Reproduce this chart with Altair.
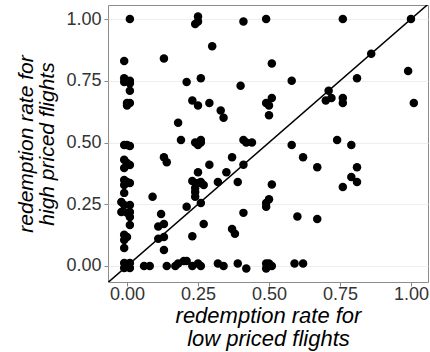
import altair as alt
import pandas as pd

# redemption rates
low_price = [
    0.01, 0.25, 0.24, 0.25, 0.41, 0.49, 0.76, 1.00,
    0.30, 0.86, -0.01, 0.13, 0.51, 0.99,
    -0.01, -0.01, 0.01, 0.01, 0.01, 0.21, 0.26, 0.40, 0.58, 0.81, 0.71,
    0.00, 0.01, 0.00, 0.23, 0.25, 0.29, 0.33, 0.34, 0.18,
    0.49, 0.51, 0.50, 0.50, 0.70, 0.72, 0.76, 0.76, 1.01,
    0.74, 0.58, 0.79,
    0.19, 0.24, 0.26, 0.25, 0.26, 0.41, 0.42, 0.44, -0.01, 0.00, 0.01,
    0.62, 0.67, 0.81, 0.13, 0.14, -0.01, 0.00, -0.01, 0.01, 0.29, 0.37, 0.41, 0.25, 0.35,
    0.79, 0.81, 0.76, 0.51, -0.01, 0.00, -0.01, 0.01, 0.23, 0.25, 0.26, 0.27, 0.24, 0.32, 0.39,
    -0.01, 0.09, 0.24, 0.24, 0.50, 0.49, 0.49, 0.26, 0.21, -0.02, -0.01, 0.01, 0.60, 0.67,
    -0.02, 0.00, 0.01, 0.01, 0.12, 0.41, 0.01, 0.11, 0.13, 0.27, 0.37, 0.38,
    -0.01, 0.00, -0.01, 0.23, 0.11, 0.13, -0.01, 0.13,
    -0.01, 0.00, 0.01, -0.01, 0.00, 0.01, 0.06, 0.08, 0.14, 0.17, 0.18, 0.20, 0.21,
    0.23, 0.25, 0.26, 0.32, 0.34, 0.39, 0.42, 0.49, 0.50, 0.51, 0.49, 0.59, 0.62,
]
high_price = [
    1.00, 1.01, 0.98, 0.99, 0.99, 1.00, 1.00, 1.00,
    0.89, 0.86, 0.83, 0.84, 0.82, 0.79,
    0.76, 0.745, 0.75, 0.74, 0.71, 0.745, 0.76, 0.73, 0.75, 0.76, 0.71,
    0.66, 0.66, 0.65, 0.67, 0.65, 0.66, 0.63, 0.60, 0.58,
    0.66, 0.68, 0.65, 0.61, 0.67, 0.68, 0.68, 0.66, 0.66,
    0.51, 0.49, 0.49,
    0.51, 0.50, 0.51, 0.49, 0.50, 0.51, 0.50, 0.50, 0.49, 0.49, 0.486,
    0.44, 0.40, 0.40, 0.44, 0.42, 0.43, 0.417, 0.397, 0.409, 0.41, 0.44, 0.41, 0.38, 0.38,
    0.36, 0.34, 0.32, 0.33, 0.348, 0.34, 0.328, 0.336, 0.344, 0.336, 0.34, 0.328, 0.316, 0.34, 0.34,
    0.296, 0.28, 0.30, 0.28, 0.27, 0.255, 0.24, 0.255, 0.24, 0.259, 0.247, 0.247, 0.20, 0.19,
    0.219, 0.215, 0.219, 0.198, 0.21, 0.215, 0.166, 0.16, 0.17, 0.17, 0.15, 0.13,
    0.126, 0.117, 0.105, 0.12, 0.11, 0.117, 0.073, 0.065,
    0.012, 0.008, 0.012, -0.008, -0.004, -0.008, 0.00, 0.00, 0.00, 0.00, 0.01, 0.02, 0.02,
    0.00, 0.01, 0.00, 0.01, 0.00, 0.01, -0.01, 0.01, 0.01, 0.00, -0.01, 0.01, 0.01,
]
tick_values = [0.0, 0.25, 0.5, 0.75, 1.0]
diag = [-0.2, 1.2]

points = pd.DataFrame({"low": low_price, "high": high_price})
line_df = pd.DataFrame({"low": diag, "high": diag})

FONT = "Liberation Sans"
x_scale = alt.Scale(domain=[-0.067, 1.06], nice=False, zero=False)
y_scale = alt.Scale(domain=[-0.065, 1.057], nice=False, zero=False)

x_axis = alt.Axis(
    title=["redemption rate for", "low priced flights"],
    values=tick_values, format=".2f", grid=False, domain=False,
    tickColor="#888888", tickSize=4, labelPadding=-1,
    labelFontSize=18, labelColor="#333333", labelFont=FONT,
    titleFontSize=22, titleFontStyle="italic", titleFontWeight="normal",
    titleFont=FONT, titleColor="#000000", titlePadding=2, titleLineHeight=23,
)
y_axis = alt.Axis(
    title=["redemption rate for", "high priced flights"],
    values=tick_values, format=".2f", grid=True, gridColor="#eeeeee",
    domain=False, tickColor="#888888", tickSize=4, labelPadding=3,
    labelFontSize=18, labelColor="#333333", labelFont=FONT,
    titleFontSize=21, titleFontStyle="italic", titleFontWeight="normal",
    titleFont=FONT, titleColor="#000000", titlePadding=8, titleLineHeight=21,
)

scatter = alt.Chart(points).mark_circle(size=72, color="#000000", opacity=1).encode(
    x=alt.X("low:Q", scale=x_scale, axis=x_axis),
    y=alt.Y("high:Q", scale=y_scale, axis=y_axis),
)
diagonal = alt.Chart(line_df).mark_line(color="#000000", strokeWidth=1.5, clip=True).encode(
    x=alt.X("low:Q", scale=x_scale),
    y=alt.Y("high:Q", scale=y_scale),
)

chart = (
    alt.layer(diagonal, scatter)
    .properties(
        width=320, height=277,
        autosize=alt.AutoSizeParams(type="none"),
        padding={"left": 108, "top": 5, "right": 2, "bottom": 70},
        background="#ffffff",
    )
    .configure_view(stroke="#8c8c8c", strokeWidth=1)
)

chart.save("out.html", embed_options={"renderer": "svg", "actions": False})
